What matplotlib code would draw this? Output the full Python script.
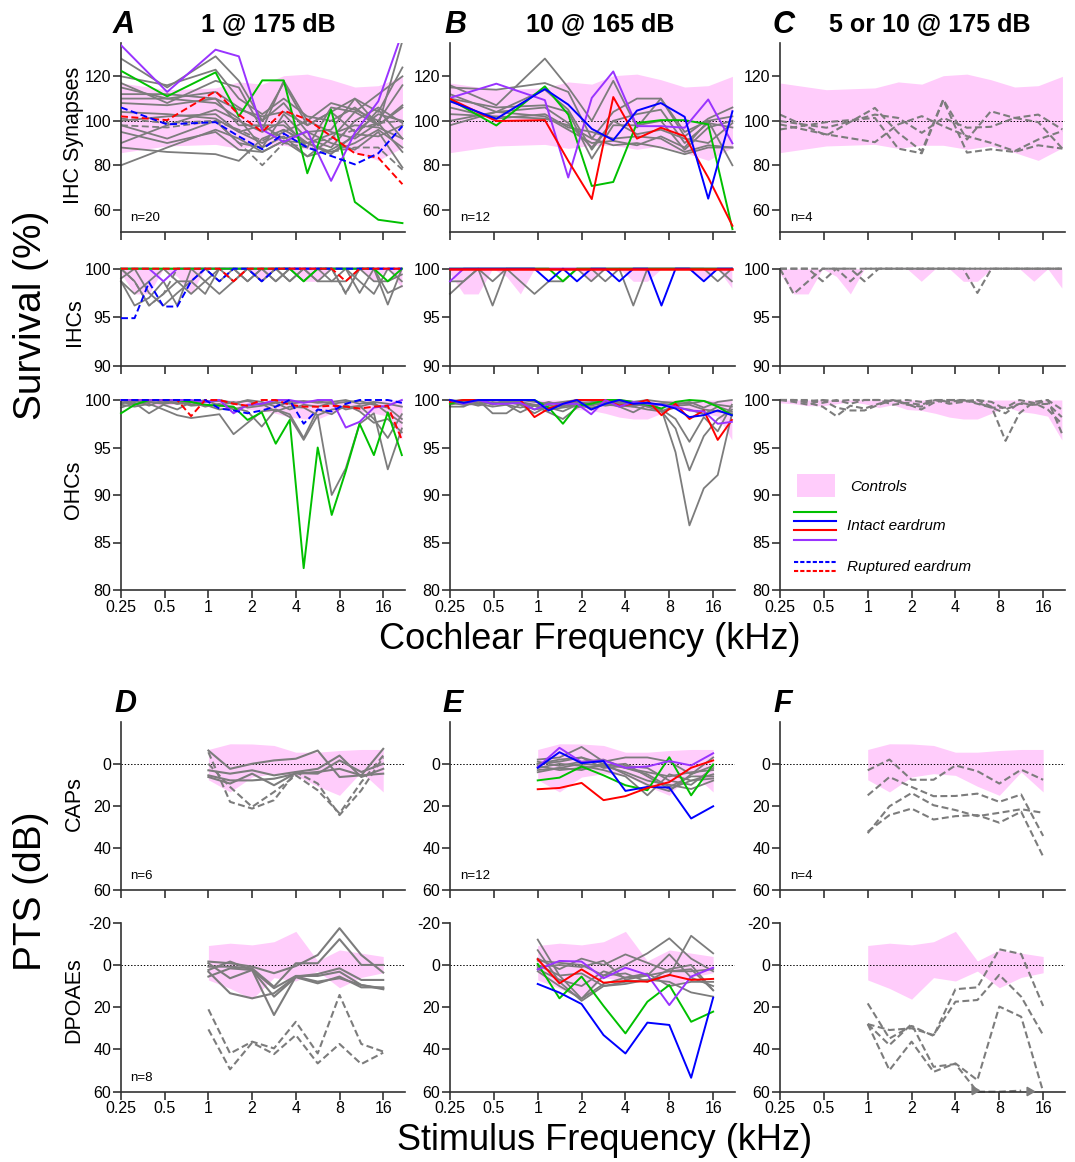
import matplotlib.pyplot as plt
from matplotlib.patches import Rectangle
from matplotlib.lines import Line2D
from matplotlib.ticker import NullLocator

plt.rcParams['font.family'] = ['Liberation Sans', 'DejaVu Sans']
plt.rcParams['lines.scale_dashes'] = False
plt.rcParams['axes.unicode_minus'] = False

# ============ frequencies (kHz) ============
F_SYN = [0.25, 0.52, 1.12, 1.62, 2.35, 3.3, 4.8, 7.0, 10.2, 14.8, 21.7]
F_HC = [0.25, 0.31, 0.39, 0.49, 0.61, 0.76, 0.95, 1.19, 1.49, 1.86, 2.33,
        2.91, 3.63, 4.53, 5.66, 7.07, 8.83, 11.0, 13.8, 17.2, 21.5]
F_STIM = [1, 1.41, 2, 2.83, 4, 5.66, 8, 11.3, 16]
XTICKS = [0.25, 0.5, 1, 2, 4, 8, 16]
XTICKLABELS = ['0.25', '0.5', '1', '2', '4', '8', '16']

# ============ control bands ============
CTRL_SYN_HI = [117, 114, 114.8, 117.5, 116.5, 120.3, 121, 118.5, 115.2, 115.8, 120]
CTRL_SYN_LO = [85.7, 88.7, 89.4, 87.6, 89, 89, 87.2, 88.7, 85.7, 82.2, 87.9]
CTRL_IHC_LO = [99.5, 97.4, 97.4, 100, 99.2, 97.4, 100, 100, 100, 100, 98.7,
               100, 100, 98.7, 98.7, 100, 100, 100, 98.7, 100, 98.0]
CTRL_OHC_LO = [99.7, 99.6, 99.4, 99.4, 99.6, 99.8, 99.6, 99.2, 99.5, 99.0, 98.9,
               98.6, 98.2, 98.0, 98.0, 98.6, 99.3, 98.8, 98.6, 98.3, 95.8]
CTRL_CAP_HI = [-6.8, -9.5, -9.4, -8.7, -5.5, -5.5, -6.3, -6.8, -6.8]
CTRL_CAP_LO = [7.6, 13.4, 6.3, 4.7, 5.5, 10.7, 15, 3.9, 13.4]
CTRL_DP_HI = [-9.2, -10.3, -9.5, -11, -15.9, -1.9, -7.1, -5.6, -4]
CTRL_DP_LO = [7.1, 11.1, 16.2, 6, 7.6, 2.9, 10.8, 5.9, 3.7]

# ============ IHC synapses ============
SYN_A_GREEN = [122.5, 111, 121.8, 102, 118.2, 118.2, 76.4, 105, 63.5, 55.5, 54]
SYN_A_PURPLE = [134, 113, 132, 129, 96, 90.5, 95.4, 73, 94.6, 108.8, 140]
SYN_A_RED = [102, 100.3, 113.3, 102.8, 95, 104.6, 100.6, 93.1, 85.4, 83.4, 71.5]
SYN_A_BLUE = [106, 98.4, 99.4, 93, 87.2, 94.3, 88, 84.2, 80.4, 85.4, 97.6]
SYN_A_GRAY = [
    [128, 115, 129, 118, 100, 117, 98, 104, 110, 104, 124],
    [120, 116, 123, 110, 103, 110, 102, 100, 106, 98, 136],
    [117, 108, 118, 115, 96, 118, 100, 108, 105, 100, 116],
    [115, 110, 113, 106, 100, 108, 95, 96, 110, 98, 106],
    [112, 112, 110, 105, 102, 104, 98, 104, 95, 103, 100],
    [110, 110, 108, 101, 88, 103, 92, 88, 100, 106, 99],
    [108, 107, 110, 98, 98, 98, 90, 94, 98, 97, 92],
    [104, 103, 101, 95, 90, 95, 100, 95, 92, 99, 86],
    [100, 102, 103, 95, 98, 92, 95, 90, 87, 95, 79],
    [98, 92, 100, 90, 88, 93, 84, 87, 93, 105, 92],
    [95, 90, 95, 87, 86, 91, 90, 86, 90, 96, 88],
    [90, 98, 105, 100, 95, 100, 88, 106, 104, 98, 107],
    [88, 86, 85, 82, 92, 96, 90, 85, 94, 93, 98],
    [80, 88, 96, 92, 86, 91, 84, 92, 104, 112, 120],
]
SYN_A_GRAY_DASH = [
    [98, 97, 100, 90, 80, 90, 88, 86, 88, 88, 78],
    [101, 99, 100, 96, 91, 96, 90, 92, 96, 99, 100],
]
SYN_B_BLUE = [108.8, 100.9, 114.3, 107.3, 96.4, 91.3, 104.6, 108, 101.8, 65, 104.3]
SYN_B_RED = [109.9, 99.9, 100.3, 82, 64.8, 110.7, 92, 96.9, 93.1, 74.5, 52.8]
SYN_B_GREEN = [109.6, 97.9, 115.5, 102.8, 70.7, 72.5, 99, 100.3, 100.3, 98.4, 51.3]
SYN_B_PURPLE = [110.3, 116.7, 109.3, 74.5, 110.3, 122.2, 97.6, 97.6, 96.9, 109.6, 89.9]
SYN_B_GRAY = [
    [116, 107, 128, 115, 100, 118, 97, 110, 93, 101, 106],
    [115, 114, 117, 113, 92, 104, 110, 110, 95, 100, 80],
    [112, 104, 114, 105, 87, 100, 103, 105, 90, 99, 97],
    [110, 106, 107, 104, 83, 98, 98, 100, 87, 97, 100],
    [106, 101, 103, 97, 95, 92, 93, 92, 86, 89, 88],
    [103, 102, 101, 98, 92, 89, 90, 88, 85, 88, 88],
    [100, 104, 106, 99, 88, 100, 94, 96, 92, 90, 99],
    [98, 104, 102, 96, 90, 91, 89, 93, 88, 100, 102],
]
SYN_C_GRAY_DASH = [
    [102.8, 93.4, 105.8, 94.6, 86.4, 109.6, 91.6, 104.3, 101.3, 102.8, 96.1],
    [99.9, 96.9, 102.8, 101.3, 94.6, 101.3, 96.9, 97.3, 101.3, 99.4, 87.5],
    [96.1, 99.4, 101.3, 87.5, 85.4, 109.3, 85.7, 87.2, 86.0, 89, 87.5],
    [98.4, 93.9, 90.4, 98.4, 102.1, 97.6, 93.1, 90.1, 86.4, 91.6, 95.4],
]

# ============ IHCs ============
IHC_A_GREEN = [100, 100, 100, 100, 100, 100, 100, 100, 100, 100, 100,
               100, 100, 98.7, 100, 100, 100, 100, 100, 98.7, 100]
IHC_A_PURPLE = [100, 100, 100, 98.7, 100, 100, 100, 100, 100, 100, 100,
                100, 100, 100, 100, 100, 100, 100, 100, 100, 100]
IHC_A_RED = [100, 100, 100, 100, 100, 100, 100, 100, 98.7, 100, 100,
             100, 100, 100, 100, 100, 98.7, 100, 100, 100, 100]
IHC_A_BLUE = [94.9, 94.9, 98.6, 96.1, 96.1, 98.7, 100, 98.7, 100, 100, 98.7,
              100, 100, 100, 100, 100, 100, 100, 100, 100, 100]
IHC_A_GRAY = [
    [99.0, 100, 97.5, 96.2, 97.5, 98.7, 97.4, 100, 100, 98.7, 100,
     98.7, 100, 98.7, 100, 100, 100, 97.5, 100, 97.5, 98.2],
    [98.7, 96.2, 97.0, 98.7, 96.2, 100, 98.7, 97.4, 98.7, 100, 98.7,
     100, 98.7, 100, 100, 98.7, 98.7, 100, 100, 96.3, 100],
    [100, 98.7, 96.2, 97.4, 98.7, 98.7, 100, 100, 98.7, 100, 100,
     98.7, 100, 100, 98.7, 98.7, 100, 98.7, 97.4, 100, 98.7],
    [98.7, 97.4, 98.7, 100, 98.7, 97.4, 98.7, 100, 100, 98.7, 100,
     100, 98.7, 100, 100, 100, 97.5, 100, 98.7, 98.7, 99.4],
    [100, 100, 100, 100, 100, 100, 100, 98.7, 100, 100, 98.7,
     100, 100, 100, 98.7, 100, 100, 100, 100, 100, 100],
]
IHC_A_GRAY_DASH = [
    [100, 98.7, 96.2, 97.4, 100, 100, 100, 100, 100, 100, 100,
     100, 100, 100, 100, 100, 97.4, 100, 100, 100, 100],
]
IHC_B_BLUE = [100, 100, 100, 100, 100, 100, 100, 98.7, 100, 98.7, 100,
              100, 98.7, 100, 100, 96.2, 100, 100, 98.7, 100, 100]
IHC_B_GREEN = [100, 100, 100, 100, 100, 100, 100, 100, 98.7, 100, 100,
               100, 100, 100, 100, 100, 100, 100, 100, 100, 100]
IHC_B_RED = [100] * 21
IHC_B_PURPLE = [98.7, 100, 100, 100, 100, 100, 100, 100, 100, 100, 100,
                100, 100, 100, 100, 100, 100, 100, 100, 100, 100]
IHC_B_GRAY = [
    [97.4, 98.7, 100, 96.2, 100, 98.7, 97.4, 98.7, 98.7, 100, 98.7,
     100, 100, 96.2, 100, 100, 100, 100, 100, 100, 98.7],
    [98.7, 98.7, 100, 98.7, 100, 100, 100, 100, 100, 100, 100,
     98.7, 100, 100, 100, 100, 100, 100, 100, 98.7, 100],
]
IHC_C_GRAY_DASH = [
    [100, 97.4, 98.7, 100, 100, 100, 100, 100, 100, 100, 100,
     100, 100, 100, 100, 100, 100, 100, 100, 100, 100],
    [100, 100, 100, 98.7, 100, 98.7, 100, 100, 100, 100, 100,
     100, 100, 100, 100, 100, 100, 100, 100, 100, 100],
    [100, 100, 100, 100, 100, 100, 98.7, 100, 100, 100, 100,
     100, 100, 100, 97.5, 100, 100, 100, 100, 100, 100],
]

# ============ OHCs ============
OHC_A_GREEN = [98.6, 99.5, 100, 100, 100, 99.8, 99.5, 99.4, 99.3, 97.9, 98.7,
               95.4, 97.9, 82.3, 95.0, 87.9, 92.5, 97.5, 94.2, 98.7, 94.2]
OHC_A_PURPLE = [100, 100, 100, 100, 100, 100, 99.8, 100, 98.6, 99.5, 99.6,
                100, 100, 99.7, 100, 100, 97.1, 97.7, 99.2, 99.4, 100]
OHC_A_RED = [100, 100, 100, 100, 100, 98.3, 100, 100, 99.6, 99.4, 100,
             100, 99.5, 99.3, 99.3, 99.4, 99.3, 99.1, 99.3, 99.4, 95.8]
OHC_A_BLUE = [100, 100, 100, 100, 100, 100, 100, 99.1, 98.9, 98.6, 98.9,
              99.3, 100, 97.5, 99.0, 98.8, 99.6, 100, 100, 100, 99.7]
OHC_A_GRAY = [
    [99.5, 99.3, 99.6, 99.0, 98.4, 98.1, 98.3, 98.5, 96.4, 97.6, 98.8,
     99.0, 98.2, 95.8, 98.4, 90.0, 92.8, 97.5, 98.6, 92.7, 97.0],
    [99.8, 99.5, 99.8, 99.6, 99.8, 99.4, 99.5, 99.0, 99.2, 98.8, 97.2,
     99.0, 98.5, 96.0, 99.0, 98.5, 99.5, 98.8, 97.6, 98.0, 96.6],
    [99.2, 99.7, 98.6, 99.5, 99.0, 99.8, 99.3, 99.6, 99.0, 99.4, 99.6,
     98.8, 99.3, 99.2, 98.4, 99.0, 99.2, 99.4, 98.0, 96.0, 98.5],
    [100, 99.8, 100, 99.9, 99.6, 99.9, 99.8, 100, 99.7, 99.9, 99.5,
     99.8, 99.6, 99.8, 99.9, 99.6, 99.8, 99.9, 99.5, 99.2, 98.0],
    [99.6, 100, 99.4, 100, 99.6, 99.7, 100, 99.4, 99.8, 99.2, 99.4,
     99.7, 99.0, 99.5, 99.3, 99.7, 99.0, 99.3, 99.7, 98.6, 97.6],
    [100, 99.6, 99.8, 99.7, 100, 99.5, 99.8, 99.9, 99.6, 100, 99.8,
     99.3, 99.8, 99.9, 99.7, 99.8, 100, 99.6, 99.8, 99.6, 99.3],
]
OHC_B_GREEN = [99.6, 100, 100, 100, 100, 100, 100, 99.2, 97.5, 99.4, 99.6,
               100, 100, 99.8, 99.5, 99.1, 99.8, 100, 99.9, 99.3, 98.4]
OHC_B_RED = [99.8, 100, 100, 100, 100, 100, 98.2, 99.1, 99.6, 100, 100,
             100, 99.4, 99.6, 100, 98.4, 99.6, 98.0, 98.9, 95.8, 97.9]
OHC_B_BLUE = [100, 99.7, 100, 100, 100, 100, 100, 98.9, 99.6, 100, 99.0,
              99.6, 100, 99.6, 99.7, 99.5, 99.1, 98.2, 98.4, 98.9, 98.4]
OHC_B_PURPLE = [100, 99.6, 100, 99.6, 99.6, 99.7, 99.0, 99.6, 99.6, 99.6, 98.5,
                100, 99.3, 99.8, 99.6, 99.5, 99.3, 98.9, 98.8, 97.5, 97.7]
OHC_B_GRAY = [
    [99.3, 99.3, 100, 98.6, 98.6, 99.6, 99.0, 99.2, 98.8, 99.5, 99.4,
     99.8, 99.6, 99.3, 99.8, 99.0, 94.5, 86.8, 90.7, 92.1, 98.5],
    [99.5, 99.8, 99.4, 99.8, 99.5, 98.7, 99.4, 98.7, 98.0, 99.2, 99.6,
     99.5, 99.8, 99.6, 99.3, 98.8, 97.0, 92.6, 96.2, 98.0, 99.0],
    [99.8, 99.5, 99.8, 99.6, 99.8, 99.5, 98.6, 99.4, 99.3, 99.8, 99.0,
     99.7, 99.3, 98.7, 99.5, 99.0, 98.0, 95.6, 98.2, 96.7, 99.5],
    [100, 99.8, 100, 99.5, 100, 99.8, 99.5, 99.0, 99.6, 99.8, 99.6,
     100, 99.8, 99.4, 99.6, 98.8, 99.4, 99.5, 99.0, 98.8, 98.6],
    [99.9, 100, 99.6, 100, 99.8, 100, 99.8, 99.6, 99.8, 100, 99.9,
     99.6, 100, 99.8, 100, 99.8, 99.7, 99.6, 99.9, 99.5, 99.3],
    [99.6, 99.8, 99.9, 99.6, 99.8, 99.7, 99.4, 99.8, 99.4, 99.5, 99.7,
     99.4, 99.6, 99.8, 99.3, 99.6, 99.5, 99.8, 99.2, 99.8, 100],
    [99.7, 99.5, 99.6, 99.3, 99.5, 99.2, 99.5, 99.0, 99.2, 99.4, 99.2,
     99.5, 99.4, 99.3, 99.0, 98.8, 99.2, 99.0, 98.5, 99.3, 98.8],
]
OHC_C_GRAY_DASH = [
    [100, 100, 99.7, 99.3, 98.3, 99.4, 99.1, 99.6, 100, 99.5, 99.3,
     100, 99.6, 99.8, 100, 99.3, 95.7, 98.6, 99.8, 100, 96.5],
    [100, 99.8, 99.5, 100, 99.2, 98.9, 98.9, 99.5, 100, 99.6, 99.0,
     99.8, 100, 100, 99.7, 99.2, 99.2, 100, 99.7, 99.0, 97.5],
    [100, 100, 100, 99.7, 100, 99.6, 100, 100, 99.5, 99.7, 99.5,
     100, 99.8, 100, 99.6, 99.2, 98.6, 99.7, 99.5, 99.6, 98.2],
    [100, 100, 99.9, 100, 99.9, 100, 100, 100, 99.9, 100, 99.8,
     100, 100, 99.9, 100, 99.8, 99.0, 99.6, 99.5, 100, 99.0],
]

# ============ CAP threshold shifts (dB) ============
CAP_D_GRAY = [
    [-6.3, 2.4, 0, -1.6, -2.4, -6.3, 6.3, 5.5, -7.1],
    [3.1, 4.7, 3.1, 5.5, 3.9, 2.4, -3.9, 6.3, 2.4],
    [6.3, 9.4, 4.7, 10.2, 4.4, 4.7, -1.6, 3.9, 0],
    [5.5, 7.9, 7.9, 7.1, 4.7, 3.9, 2.4, 5.5, 4.7],
]
CAP_D_GRAY_DASH = [
    [-5.5, 18.1, 21.3, 17.3, 3.9, 9.4, 24.4, 12.6, -3.1],
    [0, 11, 20.5, 13.4, 5.5, 12.6, 23.6, 8.7, -3.9],
]
CAP_E_RED = [12.1, 11.5, 9.1, 17.3, 15.4, 11.5, 8.7, 1.9, -1.6]
CAP_E_GREEN = [7.9, 6.6, 1.3, 5.5, 10.2, 12.6, -3.1, 15, 0.3]
CAP_E_BLUE = [1.9, -5.5, -0.3, -1.3, 12.9, 11, 11.3, 26, 20.2]
CAP_E_PURPLE = [1.6, -7.6, -0.8, -1.6, 1.9, 1.3, -1.3, 0.8, -5]
CAP_E_GRAY = [
    [-2, -3, -8, -1, -3, -3, -1, 5, -3],
    [0, -2, -3, 2, 1, 2, 8, 10, 2],
    [2, 0, 1, 3, 6, 15, 5, 8, 5],
    [3, 2, 0, 1, 4, 8, 10, 12, 8],
    [1, 3, 2, 1, 0, 6, 12, 8, 7],
    [-1, 1, -1, -2, 2, 4, 6, 4, 3],
    [4, 2, 3, 0, 2, 5, 11, 6, 6],
    [0, -1, -3, 0, 5, 10, 13, 5, 1],
]
CAP_F_GRAY_DASH = [
    [3.1, -2, 7.6, 7.6, 0.8, 3.5, 9.4, 2.8, 7.6],
    [15, 6.3, 11, 15.4, 15.3, 14.2, 18.1, 14.6, 34.3],
    [33, 20.2, 13.9, 19.7, 22, 24.9, 23.3, 21.6, 23.3],
    [32.3, 24.4, 21.3, 26.5, 24.9, 24.4, 28, 22.8, 44.1],
]

# ============ DPOAE threshold shifts (dB) ============
DP_D_GRAY = [
    [-1.6, -0.8, 0.8, 3.9, 0.5, -4.7, -17.4, -4.7, 3.6],
    [0.8, 0.8, 1.6, 10.3, -0.8, -0.8, -12.2, 0, 0],
    [2.4, -1.6, 2.4, 23.7, 5.5, 4.3, 1.6, 7.1, 7.1],
    [3.2, 13.4, 15.8, 13.4, 5.5, 7.9, 6.3, 9.5, 11.5],
    [5.5, 1.6, 2.4, 15, 5.8, 8.7, 5.5, 10.6, 10.6],
    [-0.8, 6.3, 2.4, 11, 5.2, 5.2, 3.2, 9.5, 11.1],
]
DP_D_GRAY_DASH = [
    [21, 41.9, 36.3, 39.5, 26.9, 41.9, 14.2, 37.4, 41],
    [30.5, 49.4, 36.8, 42.2, 33.2, 46.6, 37.4, 46.9, 41.5],
]
DP_E_RED = [-2.7, 8.7, 2.1, 8.4, 7.6, 7.9, 4.7, 7.1, 6.6]
DP_E_GREEN = [-0.5, 15.8, 5.5, 19.4, 32.4, 17.4, 9.5, 26.9, 22.1]
DP_E_BLUE = [9, 13.1, 18.5, 33.2, 41.9, 27.3, 28.4, 53.4, 15.5]
DP_E_PURPLE = [2.1, -1.9, -1.6, 6.3, 1.3, 4.7, 19, 5.5, 1.3]
DP_E_GRAY = [
    [-12, 5, 16, 5, 0, -5.5, -12.6, -3, 3],
    [-7, 8, 17, 10, 8, 7, 5, -13.8, -5.5],
    [-3, 2, -3, 0, -5, -1, 3, 2, 12],
    [0, 5, 4, 10, 9, 7, 8, 13, 15],
    [2, 7, 10, 3, 6, 5, -5, 6, 10],
    [-2, -1, 0, 5, 4, 8, 2, 0, 12],
    [3, 10, 16, 9, 6, 4, 10, 8, 8],
    [1, 0, 1, -2, 7, 5, 3, 3, 2],
]
DP_F_GRAY_DASH = [
    [18.2, 34.8, 28.9, 33.6, 11.5, 10.6, -7.4, -5.2, 19.4],
    [28, 30.8, 30, 33.2, 17.4, 16.6, 4.7, 15, 33.2],
    [28, 37.9, 28, 48.2, 46.9, 60, 60, 59.5],
    [28, 49.8, 36.3, 50.6, 46.6, 54.5, 19.7, 24.5, 60],
]

GREEN, BLUE, RED, PURPLE = '#00c000', '#0000ff', '#ff0000', '#9933ff'
GRAY, PINK = '#7c7c7c', '#ffccfb'

# ============ layout (pixels) ============
W, H = 1075, 1162
COLS = [(121, 405), (450, 735), (780, 1065)]
ROWS = [(43, 232), (268.7, 365.7), (400, 590), (721.7, 890), (922.7, 1091.7)]
YLIMS = [(50, 135), (90, 100), (80, 100), (60, -20), (60, -20)]
YTICKS = [[60, 80, 100, 120], [90, 95, 100], [80, 85, 90, 95, 100],
          [0, 20, 40, 60], [-20, 0, 20, 40, 60]]

fig = plt.figure(figsize=(W / 100, H / 100), dpi=100)


def T(x, y, s, **kw):
    kw.setdefault('ha', 'center')
    kw.setdefault('va', 'center')
    fig.text(x / W, 1 - y / H, s, **kw)


def make_ax(col, row):
    l, r = COLS[col]
    t, b = ROWS[row]
    ax = fig.add_axes([l / W, 1 - b / H, (r - l) / W, (b - t) / H])
    ax.set_xscale('log', base=2)
    ax.set_xlim(0.25, 22.6)
    ax.set_xticks(XTICKS)
    ax.xaxis.set_minor_locator(NullLocator())
    ax.set_xticklabels(XTICKLABELS if row in (2, 4) else [])
    ax.set_ylim(*YLIMS[row])
    ax.set_yticks(YTICKS[row])
    ax.set_yticklabels([str(v) for v in YTICKS[row]])
    for s in ('top', 'right'):
        ax.spines[s].set_visible(False)
    for s in ('left', 'bottom'):
        ax.spines[s].set_linewidth(1.2)
        ax.spines[s].set_color('#333333')
    ax.tick_params(length=6, width=1.2, color='#333333', labelsize=11.5, pad=1)
    ax.patch.set_alpha(0)
    return ax


def draw(ax, x, ys, color, dashed=False, lw=1.4, clip=True, z=3):
    kw = dict(color=color, lw=lw, clip_on=clip, zorder=z)
    if dashed:
        kw['dashes'] = (5, 2.5)
    ax.plot(x[:len(ys)], ys, **kw)


def band(ax, x, lo, hi):
    ax.fill_between(x, lo, hi, color=PINK, lw=0, zorder=1)


def ref(ax, y):
    ax.axhline(y, color='black', lw=0.7, ls=(0, (1, 1.3)), zorder=1.5)


# ---- row 1: IHC synapses ----
axs = [make_ax(c, 0) for c in range(3)]
for ax in axs:
    band(ax, F_SYN, CTRL_SYN_LO, CTRL_SYN_HI)
    ref(ax, 100)
ax = axs[0]
for ys in SYN_A_GRAY:
    draw(ax, F_SYN, ys, GRAY, lw=1.3, z=2)
for ys in SYN_A_GRAY_DASH:
    draw(ax, F_SYN, ys, GRAY, dashed=True, lw=1.3, z=2)
draw(ax, F_SYN, SYN_A_GREEN, GREEN)
draw(ax, F_SYN, SYN_A_PURPLE, PURPLE)
draw(ax, F_SYN, SYN_A_RED, RED, dashed=True)
draw(ax, F_SYN, SYN_A_BLUE, BLUE, dashed=True)
ax = axs[1]
for ys in SYN_B_GRAY:
    draw(ax, F_SYN, ys, GRAY, lw=1.3, z=2)
draw(ax, F_SYN, SYN_B_GREEN, GREEN)
draw(ax, F_SYN, SYN_B_PURPLE, PURPLE)
draw(ax, F_SYN, SYN_B_RED, RED)
draw(ax, F_SYN, SYN_B_BLUE, BLUE)
ax = axs[2]
for ys in SYN_C_GRAY_DASH:
    draw(ax, F_SYN, ys, GRAY, dashed=True, lw=1.5, z=2)

# ---- row 2: IHCs ----
axs = [make_ax(c, 1) for c in range(3)]
for ax in axs:
    band(ax, F_HC, CTRL_IHC_LO, [100] * len(F_HC))
ax = axs[0]
for ys in IHC_A_GRAY:
    draw(ax, F_HC, ys, GRAY, lw=1.3, clip=False, z=2)
for ys in IHC_A_GRAY_DASH:
    draw(ax, F_HC, ys, GRAY, dashed=True, lw=1.3, clip=False, z=2)
draw(ax, F_HC, IHC_A_PURPLE, PURPLE, clip=False)
draw(ax, F_HC, IHC_A_GREEN, GREEN, clip=False)
draw(ax, F_HC, IHC_A_BLUE, BLUE, dashed=True, clip=False)
draw(ax, F_HC, IHC_A_RED, RED, dashed=True, clip=False)
ax = axs[1]
for ys in IHC_B_GRAY:
    draw(ax, F_HC, ys, GRAY, lw=1.3, clip=False, z=2)
draw(ax, F_HC, IHC_B_PURPLE, PURPLE, clip=False)
draw(ax, F_HC, IHC_B_GREEN, GREEN, clip=False)
draw(ax, F_HC, IHC_B_BLUE, BLUE, clip=False)
draw(ax, F_HC, IHC_B_RED, RED, lw=1.8, clip=False)
ax = axs[2]
for ys in IHC_C_GRAY_DASH:
    draw(ax, F_HC, ys, GRAY, dashed=True, lw=1.5, clip=False, z=2)

# ---- row 3: OHCs ----
axs = [make_ax(c, 2) for c in range(3)]
for ax in axs:
    band(ax, F_HC, CTRL_OHC_LO, [100] * len(F_HC))
ax = axs[0]
for ys in OHC_A_GRAY:
    draw(ax, F_HC, ys, GRAY, lw=1.3, clip=False, z=2)
draw(ax, F_HC, OHC_A_GREEN, GREEN, clip=False)
draw(ax, F_HC, OHC_A_PURPLE, PURPLE, clip=False)
draw(ax, F_HC, OHC_A_RED, RED, dashed=True, clip=False)
draw(ax, F_HC, OHC_A_BLUE, BLUE, dashed=True, clip=False)
ax = axs[1]
for ys in OHC_B_GRAY:
    draw(ax, F_HC, ys, GRAY, lw=1.3, clip=False, z=2)
draw(ax, F_HC, OHC_B_GREEN, GREEN, clip=False)
draw(ax, F_HC, OHC_B_RED, RED, clip=False)
draw(ax, F_HC, OHC_B_PURPLE, PURPLE, clip=False)
draw(ax, F_HC, OHC_B_BLUE, BLUE, clip=False)
ax = axs[2]
for ys in OHC_C_GRAY_DASH:
    draw(ax, F_HC, ys, GRAY, dashed=True, lw=1.5, clip=False, z=2)

# ---- row 4: CAPs ----
axs = [make_ax(c, 3) for c in range(3)]
for ax in axs:
    band(ax, F_STIM, CTRL_CAP_LO, CTRL_CAP_HI)
    ref(ax, 0)
ax = axs[0]
for ys in CAP_D_GRAY:
    draw(ax, F_STIM, ys, GRAY, lw=1.5, z=2)
for ys in CAP_D_GRAY_DASH:
    draw(ax, F_STIM, ys, GRAY, dashed=True, lw=1.5, z=2)
ax = axs[1]
for ys in CAP_E_GRAY:
    draw(ax, F_STIM, ys, GRAY, lw=1.3, z=2)
draw(ax, F_STIM, CAP_E_GREEN, GREEN)
draw(ax, F_STIM, CAP_E_PURPLE, PURPLE)
draw(ax, F_STIM, CAP_E_BLUE, BLUE)
draw(ax, F_STIM, CAP_E_RED, RED)
ax = axs[2]
for ys in CAP_F_GRAY_DASH:
    draw(ax, F_STIM, ys, GRAY, dashed=True, lw=1.5, z=2)

# ---- row 5: DPOAEs ----
axs = [make_ax(c, 4) for c in range(3)]
for ax in axs:
    band(ax, F_STIM, CTRL_DP_LO, CTRL_DP_HI)
    ref(ax, 0)
ax = axs[0]
for ys in DP_D_GRAY:
    draw(ax, F_STIM, ys, GRAY, lw=1.5, z=2)
for ys in DP_D_GRAY_DASH:
    draw(ax, F_STIM, ys, GRAY, dashed=True, lw=1.5, z=2)
ax = axs[1]
for ys in DP_E_GRAY:
    draw(ax, F_STIM, ys, GRAY, lw=1.3, z=2)
draw(ax, F_STIM, DP_E_GREEN, GREEN)
draw(ax, F_STIM, DP_E_BLUE, BLUE)
draw(ax, F_STIM, DP_E_PURPLE, PURPLE)
draw(ax, F_STIM, DP_E_RED, RED)
ax = axs[2]
for ys in DP_F_GRAY_DASH:
    draw(ax, F_STIM, ys, GRAY, dashed=True, lw=1.5, clip=False, z=2)
# off-scale arrowheads
ax.plot([5.4], [59], marker=(3, 0, 150), ms=7, color=GRAY, clip_on=False, zorder=3)
ax.plot([12.8], [59.5], marker=(3, 0, -90), ms=7, color=GRAY, clip_on=False, zorder=3)

# ============ legend ============
fig.add_artist(Rectangle((797 / W, 1 - 497 / H), 38 / W, 23 / H,
                         transform=fig.transFigure, color=PINK, lw=0))
for y, c, d in [(512, GREEN, False), (521, BLUE, False), (530, RED, False),
                (540, PURPLE, False), (562, BLUE, True), (571, RED, True)]:
    ln = Line2D([794 / W, 836 / W], [1 - y / H] * 2, color=c, lw=1.5,
                transform=fig.transFigure)
    if d:
        ln.set_dashes((3, 1.5))
    fig.add_artist(ln)
T(850, 487, 'Controls', ha='left', fontsize=11, fontstyle='italic')
T(847, 526, 'Intact eardrum', ha='left', fontsize=11, fontstyle='italic')
T(847, 567, 'Ruptured eardrum', ha='left', fontsize=11, fontstyle='italic')

# ============ texts ============
for x, y, s in [(124, 25, 'A'), (455, 25, 'B'), (784, 25, 'C'),
                (125, 704, 'D'), (453, 704, 'E'), (783, 704, 'F')]:
    T(x, y, s, fontsize=22, fontweight='bold', fontstyle='italic')
T(268, 25, '1 @ 175 dB', fontsize=18, fontweight='bold')
T(600, 25, '10 @ 165 dB', fontsize=18, fontweight='bold')
T(930, 25, '5 or 10 @ 175 dB', fontsize=18, fontweight='bold')

for y, s in [(135, 'IHC Synapses'), (322, 'IHCs'), (490, 'OHCs'),
             (804, 'CAPs'), (1000, 'DPOAEs')]:
    T(74, y, s, rotation=90, fontsize=15.5)
T(31, 315, 'Survival (%)', rotation=90, fontsize=28)
T(31, 891, 'PTS (dB)', rotation=90, fontsize=28)
T(590, 640, 'Cochlear Frequency (kHz)', fontsize=26)
T(605, 1141, 'Stimulus Frequency (kHz)', fontsize=26)

for x, y, s in [(130, 218, 'n=20'), (460, 218, 'n=12'), (790, 218, 'n=4'),
                (130, 876, 'n=6'), (460, 876, 'n=12'), (790, 876, 'n=4'),
                (130, 1078, 'n=8')]:
    T(x, y, s, ha='left', fontsize=9.5)

fig.savefig('out.png', dpi=100)
